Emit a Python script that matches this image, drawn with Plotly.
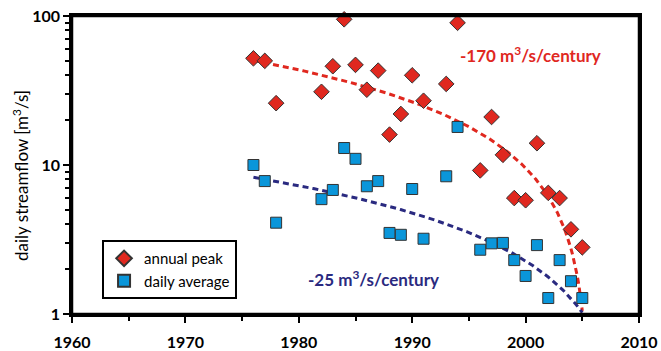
import numpy as np
import plotly.graph_objects as go

years_peak = [1976, 1977, 1978, 1982, 1983, 1984, 1985, 1986, 1987, 1988, 1989, 1990, 1991,
              1993, 1994, 1996, 1997, 1998, 1999, 2000, 2001, 2002, 2003, 2004, 2005]
annual_peak = [52, 50, 26, 31, 46, 95, 47, 32, 43, 16, 22, 40, 27,
               35, 90, 9.2, 21, 11.7, 6.0, 5.8, 14, 6.5, 6.0, 3.7, 2.8]

years_avg = [1976, 1977, 1978, 1982, 1983, 1984, 1985, 1986, 1987, 1988, 1989, 1990, 1991,
             1993, 1994, 1996, 1997, 1998, 1999, 2000, 2001, 2002, 2003, 2004, 2005]
daily_average = [10, 7.8, 4.1, 5.9, 6.8, 13, 11, 7.2, 7.8, 3.5, 3.4, 6.9, 3.2,
                 8.4, 18, 2.7, 2.98, 3.0, 2.3, 1.8, 2.9, 1.28, 2.3, 1.66, 1.28]

# trend lines (linear in flow): slope per year, value at end year
trend_span = [1976, 2005]
peak_slope, peak_end = -1.70, 1.05
avg_slope, avg_end = -0.25, 1.02

RED = "#E0281F"
BLUE = "#0A96DA"
NAVY = "#2A2A80"

tt = np.linspace(trend_span[0], trend_span[1], 200)
peak_trend = peak_end + peak_slope * (tt - trend_span[1])
avg_trend = avg_end + avg_slope * (tt - trend_span[1])

fig = go.Figure()
fig.add_trace(go.Scatter(x=tt, y=peak_trend, mode="lines", showlegend=False,
                         line=dict(color=RED, width=3, dash="6px,4px"), hoverinfo="skip"))
fig.add_trace(go.Scatter(x=tt, y=avg_trend, mode="lines", showlegend=False,
                         line=dict(color=NAVY, width=3, dash="6px,4px"), hoverinfo="skip"))
fig.add_trace(go.Scatter(x=years_peak, y=annual_peak, mode="markers", name="annual peak",
                         cliponaxis=False,
                         marker=dict(symbol="diamond", size=12, color=RED,
                                     line=dict(color="#333333", width=1))))
fig.add_trace(go.Scatter(x=years_avg, y=daily_average, mode="markers", name="daily average",
                         cliponaxis=False,
                         marker=dict(symbol="square", size=11, color=BLUE,
                                     line=dict(color="#333333", width=1))))

fig.add_annotation(x=2000.4, y=np.log10(55), xref="x", yref="y",
                   text="-170 m<sup>3</sup>/s/century", showarrow=False,
                   font=dict(family="Lato", size=17, color=RED, weight="bold"))
fig.add_annotation(x=1986.6, y=np.log10(1.72), xref="x", yref="y",
                   text="-25 m<sup>3</sup>/s/century", showarrow=False,
                   font=dict(family="Lato", size=17, color=NAVY, weight="bold"))
# y-axis title placed as rotated text
fig.add_annotation(x=-0.092, y=0.466, xref="paper", yref="paper",
                   text="daily streamflow [m<sup>3</sup>/s]", showarrow=False, textangle=-90,
                   xanchor="center", yanchor="middle",
                   font=dict(family="Lato", size=17, color="black"))

# frame around the plot area
fig.add_shape(type="rect", xref="paper", yref="paper", x0=0, x1=1, y0=0, y1=1,
              line=dict(color="black", width=2.5), layer="above")

fig.update_layout(
    width=661, height=351,
    margin=dict(l=72, r=22, t=16, b=37, autoexpand=False),
    paper_bgcolor="white", plot_bgcolor="white",
    font=dict(family="Lato", color="black"),
    legend=dict(x=0.053, y=0.248, xanchor="left", yanchor="top",
                bordercolor="black", borderwidth=2, bgcolor="white",
                font=dict(size=15, family="Lato"), itemsizing="constant",
                tracegroupgap=2),
)
fig.update_xaxes(range=[1960, 2010], dtick=10, tick0=1960, automargin=False,
                 showline=True, linecolor="black", linewidth=2.5, mirror=True,
                 ticks="outside", ticklen=6, tickwidth=2, tickcolor="black",
                 ticklabelstandoff=6,
                 minor=dict(dtick=5, ticks="outside", ticklen=4, tickwidth=2, tickcolor="black"),
                 showgrid=False, zeroline=False,
                 tickfont=dict(size=16, family="Lato", weight="bold"))
fig.update_yaxes(type="log", range=[0, 2], automargin=False,
                 tickvals=[1, 10, 100], ticktext=["1", "10", "100"],
                 showline=True, linecolor="black", linewidth=2.5, mirror=True,
                 ticks="outside", ticklen=6, tickwidth=2, tickcolor="black",
                 minor=dict(tickvals=[2, 3, 4, 5, 6, 7, 8, 9, 20, 30, 40, 50, 60, 70, 80, 90],
                            ticks="outside", ticklen=4, tickwidth=2, tickcolor="black"),
                 showgrid=False, zeroline=False,
                 tickfont=dict(size=16, family="Lato", weight="bold"))

# remove the default page margin so the figure fills the window exactly
fig.write_html("out.html", config={"displayModeBar": False},
               post_script="document.body.style.margin='0';document.body.style.overflow='hidden';")
